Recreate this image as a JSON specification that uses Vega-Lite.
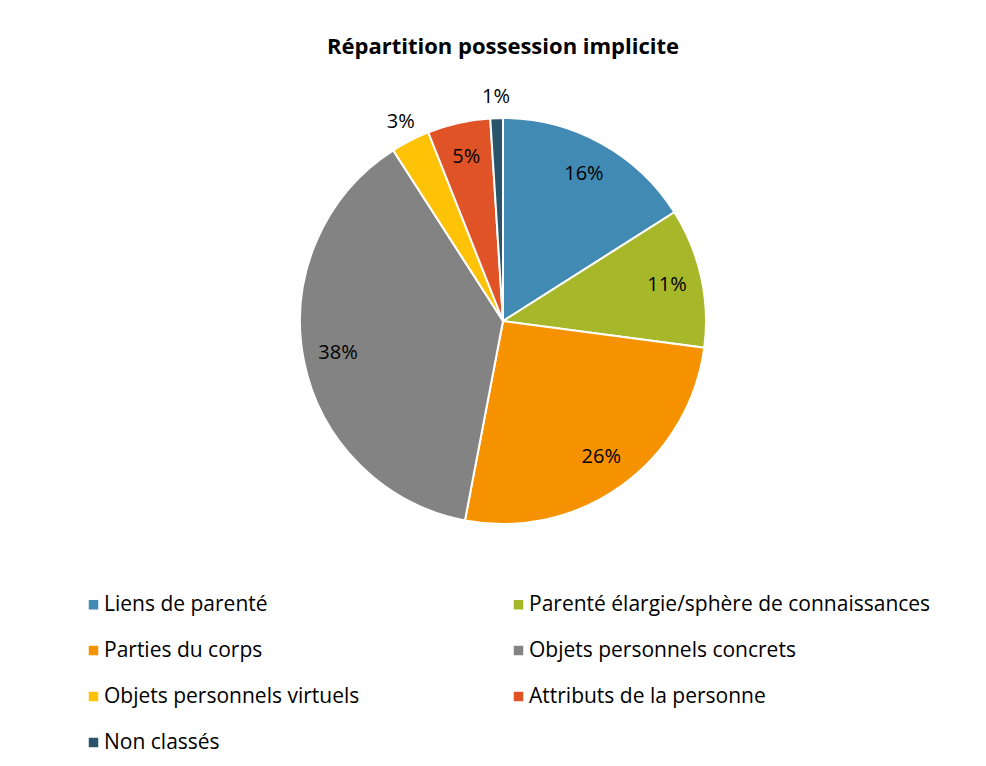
{
  "$schema": "https://vega.github.io/schema/vega-lite/v6.json",
  "width": 986,
  "height": 642,
  "autosize": {"type": "none"},
  "padding": {"left": 10, "top": 0, "right": 0, "bottom": 124},
  "background": "white",
  "title": {"text": "Répartition possession implicite", "font": "Open Sans", "fontSize": 22, "fontWeight": "bold", "color": "#000000", "anchor": "middle", "offset": -76, "baseline": "alphabetic"},
  "data": {"values": [
    {"cat": "Liens de parenté", "value": 0.160, "order": 1},
    {"cat": "Parenté élargie/sphère de connaissances", "value": 0.111, "order": 2},
    {"cat": "Parties du corps", "value": 0.259, "order": 3},
    {"cat": "Objets personnels concrets", "value": 0.379, "order": 4},
    {"cat": "Objets personnels virtuels", "value": 0.031, "order": 5},
    {"cat": "Attributs de la personne", "value": 0.050, "order": 6},
    {"cat": "Non classés", "value": 0.010, "order": 7}
  ]},
  "encoding": {
    "theta": {"field": "value", "type": "quantitative", "stack": true},
    "order": {"field": "order", "type": "quantitative"}
  },
  "layer": [
    {
      "mark": {"type": "arc", "outerRadius": 203, "stroke": "white", "strokeWidth": 2},
      "encoding": {
        "color": {
          "field": "cat", "type": "nominal",
          "scale": {
            "domain": ["Liens de parenté", "Parenté élargie/sphère de connaissances", "Parties du corps", "Objets personnels concrets", "Objets personnels virtuels", "Attributs de la personne", "Non classés"],
            "range": ["#418AB3", "#A6B829", "#F69200", "#838383", "#FEC306", "#DF5327", "#295469"]
          },
          "legend": {
            "orient": "none", "legendX": 73, "legendY": 594, "columns": 2, "direction": "horizontal", "title": null,
            "symbolType": "square", "symbolSize": 90, "symbolStrokeWidth": 0,
            "labelFont": "Open Sans", "labelFontSize": 21, "labelColor": "#000000", "labelOffset": 0,
            "labelLimit": 600, "columnPadding": 148, "rowPadding": 24, "padding": 0
          }
        }
      }
    },
    {
      "mark": {"type": "text", "radius": 168, "font": "Open Sans", "fontSize": 20, "color": "#000000"},
      "encoding": {
        "text": {"condition": {"test": "datum.cat !== 'Objets personnels virtuels' && datum.cat !== 'Non classés'", "field": "value", "type": "quantitative", "format": ".0%"}, "value": ""}
      }
    },
    {
      "mark": {"type": "text", "radius": 224, "font": "Open Sans", "fontSize": 20, "color": "#000000"},
      "encoding": {
        "text": {"condition": {"test": "datum.cat === 'Objets personnels virtuels' || datum.cat === 'Non classés'", "field": "value", "type": "quantitative", "format": ".0%"}, "value": ""}
      }
    }
  ],
  "config": {"view": {"stroke": null}}
}
